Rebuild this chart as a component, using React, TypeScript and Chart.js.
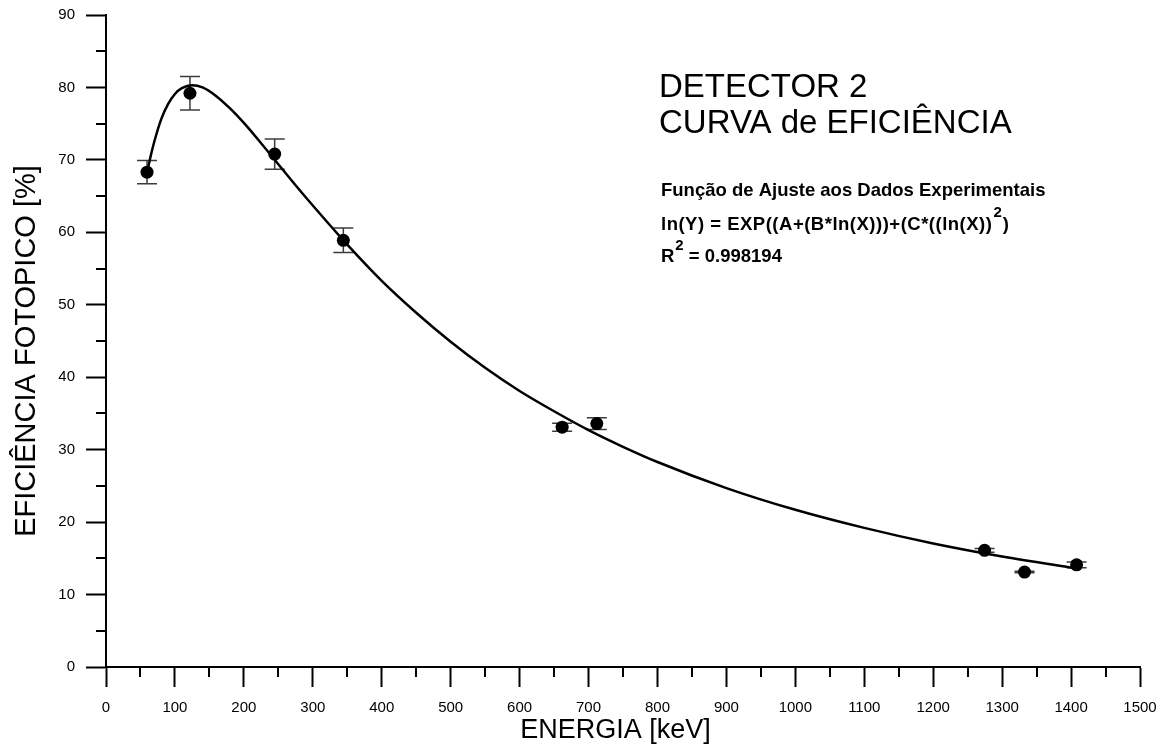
import React, { useEffect, useRef } from "react";
import { Chart, registerables } from "chart.js";

Chart.register(...registerables);

// Measured points (energy in keV, photopeak efficiency in %)
const energies = [59.5, 121.8, 244.7, 344.3, 661.7, 712.0, 1274.5, 1332.5, 1408.0];
const efficiencies = [68.3, 79.2, 70.8, 58.9, 33.1, 33.6, 16.1, 13.1, 14.1];
const errors = [1.6, 2.3, 2.1, 1.7, 0.55, 0.8, 0.25, 0.1, 0.4];

// Fitted curve
const fitEnergies = [59.5, 65, 70, 80, 90, 100, 110, 125, 140, 160, 180, 200, 225, 250, 275, 300, 350, 400, 450, 500, 550, 600, 650, 700, 750, 800, 900, 1000, 1100, 1200, 1300, 1408];
const fitEfficiencies = [68.2, 70.6, 72.5, 75.6, 77.7, 79.1, 79.9, 80.3, 80.0, 78.8, 77.1, 75.1, 72.3, 69.4, 66.5, 63.7, 58.3, 53.3, 48.9, 44.9, 41.3, 38.1, 35.3, 32.7, 30.4, 28.3, 24.7, 21.7, 19.2, 17.05, 15.25, 13.6];

// Axis ticks
const xTickValues = [0, 100, 200, 300, 400, 500, 600, 700, 800, 900, 1000, 1100, 1200, 1300, 1400, 1500];
const xMinorTicks = [50, 150, 250, 350, 450, 550, 650, 750, 850, 950, 1050, 1150, 1250, 1350, 1450];
const yTickValues = [0, 10, 20, 30, 40, 50, 60, 70, 80, 90];
const yMinorTicks = [5, 15, 25, 35, 45, 55, 65, 75, 85];

// Texts
const xTitle = "ENERGIA [keV]";
const yTitle = "EFICIÊNCIA FOTOPICO [%]";
const titleLines = ["DETECTOR 2", "CURVA de EFICIÊNCIA"];
const fitHeading = "Função de Ajuste aos Dados Experimentais";
const fitFormulaMain = "ln(Y) = EXP((A+(B*ln(X)))+(C*((ln(X))";
const fitFormulaSup = "2";
const fitFormulaEnd = ")";
const rPrefix = "R";
const rSup = "2";
const rValue = " = 0.998194";

const FONT = "'Liberation Sans', Arial, Helvetica, sans-serif";

const decorPlugin = {
  id: "decor",
  beforeDatasetsDraw(chart: any) {
    const { ctx, scales } = chart;
    const x = scales.x;
    const y = scales.y;
    ctx.save();
    ctx.strokeStyle = "#3c3c3c";
    ctx.lineWidth = 1.5;
    energies.forEach((e, i) => {
      const px = x.getPixelForValue(e);
      const top = y.getPixelForValue(efficiencies[i] + errors[i]);
      const bot = y.getPixelForValue(efficiencies[i] - errors[i]);
      ctx.beginPath();
      ctx.moveTo(px, top);
      ctx.lineTo(px, bot);
      ctx.moveTo(px - 10, top);
      ctx.lineTo(px + 10, top);
      ctx.moveTo(px - 10, bot);
      ctx.lineTo(px + 10, bot);
      ctx.stroke();
    });
    ctx.restore();
  },
  afterDraw(chart: any) {
    const { ctx, scales, chartArea } = chart;
    const x = scales.x;
    const y = scales.y;
    ctx.save();
    // minor ticks
    ctx.strokeStyle = "#000";
    ctx.lineWidth = 2;
    ctx.beginPath();
    xMinorTicks.forEach((v) => {
      const px = Math.round(x.getPixelForValue(v));
      ctx.moveTo(px, chartArea.bottom);
      ctx.lineTo(px, chartArea.bottom + 10);
    });
    yMinorTicks.forEach((v) => {
      const py = Math.round(y.getPixelForValue(v));
      ctx.moveTo(chartArea.left - 10, py);
      ctx.lineTo(chartArea.left, py);
    });
    ctx.stroke();

    ctx.fillStyle = "#000";
    // tick labels
    ctx.font = `15px ${FONT}`;
    ctx.textAlign = "center";
    ctx.textBaseline = "middle";
    xTickValues.forEach((v) => {
      ctx.fillText(String(v), x.getPixelForValue(v), chartArea.bottom + 41);
    });
    ctx.textAlign = "right";
    yTickValues.forEach((v) => {
      ctx.fillText(String(v), chartArea.left - 31, y.getPixelForValue(v));
    });

    // x title
    ctx.textBaseline = "alphabetic";
    ctx.font = `27px ${FONT}`;
    ctx.textAlign = "center";
    ctx.fillText(xTitle, 615.5, 738);
    // y title
    ctx.save();
    ctx.translate(35, 351);
    ctx.rotate(-Math.PI / 2);
    ctx.font = `29px ${FONT}`;
    ctx.fillText(yTitle, 0, 0);
    ctx.restore();

    // main title
    ctx.textAlign = "left";
    ctx.font = `33px ${FONT}`;
    ctx.fillText(titleLines[0], 659, 97);
    ctx.fillText(titleLines[1], 659, 133);

    // fit annotation
    const bold = (s: number) => `bold ${s}px ${FONT}`;
    const lx = 661;
    ctx.font = bold(18.5);
    ctx.fillText(fitHeading, lx, 196);
    let cx = lx;
    (ctx as any).letterSpacing = "0.5px";
    ctx.fillText(fitFormulaMain, cx, 230);
    cx += ctx.measureText(fitFormulaMain).width + 1;
    (ctx as any).letterSpacing = "0px";
    ctx.font = bold(15);
    ctx.fillText(fitFormulaSup, cx, 217);
    cx += ctx.measureText(fitFormulaSup).width + 1;
    ctx.font = bold(18.5);
    ctx.fillText(fitFormulaEnd, cx, 230);

    cx = lx;
    ctx.fillText(rPrefix, cx, 262);
    cx += ctx.measureText(rPrefix).width + 1;
    ctx.font = bold(15);
    ctx.fillText(rSup, cx, 250);
    cx += ctx.measureText(rSup).width;
    ctx.font = bold(18.5);
    ctx.fillText(rValue, cx, 262);
    ctx.restore();
  },
};

export default function App() {
  const canvasRef = useRef<HTMLCanvasElement | null>(null);

  useEffect(() => {
    if (!canvasRef.current) return;
    const chart = new Chart(canvasRef.current, {
      type: "scatter",
      data: {
        datasets: [
          {
            type: "line",
            label: "fit",
            data: fitEnergies.map((e, i) => ({ x: e, y: fitEfficiencies[i] })),
            borderColor: "#000",
            borderWidth: 2.5,
            pointRadius: 0,
            showLine: true,
            fill: false,
            cubicInterpolationMode: "monotone",
            order: 2,
          } as any,
          {
            type: "scatter",
            label: "data",
            data: energies.map((e, i) => ({ x: e, y: efficiencies[i] })),
            backgroundColor: "#000",
            borderColor: "#000",
            pointRadius: 6.5,
            pointHoverRadius: 6.5,
            borderWidth: 0,
            order: 1,
          },
        ],
      },
      options: {
        animation: false,
        responsive: true,
        maintainAspectRatio: false,
        events: [],
        layout: { padding: { left: 0, top: 15, right: 26, bottom: 0 } },
        plugins: {
          legend: { display: false },
          tooltip: { enabled: false },
          title: { display: false },
        },
        scales: {
          x: {
            type: "linear",
            min: 0,
            max: 1500,
            afterBuildTicks: (s: any) => {
              s.ticks = xTickValues.map((v) => ({ value: v }));
            },
            afterFit: (s: any) => {
              s.height = 80;
            },
            grid: {
              drawOnChartArea: false,
              drawTicks: true,
              tickLength: 20,
              tickWidth: 2,
              tickColor: "#000",
              color: "#000",
            },
            border: { display: true, color: "#000", width: 2 },
            ticks: { display: false, autoSkip: false },
          },
          y: {
            type: "linear",
            min: 0,
            max: 90,
            afterBuildTicks: (s: any) => {
              s.ticks = yTickValues.map((v) => ({ value: v }));
            },
            afterFit: (s: any) => {
              s.width = 106;
            },
            grid: {
              drawOnChartArea: false,
              drawTicks: true,
              tickLength: 20,
              tickWidth: 2,
              tickColor: "#000",
              color: "#000",
            },
            border: { display: true, color: "#000", width: 2 },
            ticks: { display: false, autoSkip: false },
          },
        },
      },
      plugins: [decorPlugin],
    });
    return () => chart.destroy();
  }, []);

  return (
    <div style={{ position: "absolute", left: 0, top: 0, width: 1166, height: 747, background: "#fff" }}>
      <canvas ref={canvasRef} />
    </div>
  );
}
